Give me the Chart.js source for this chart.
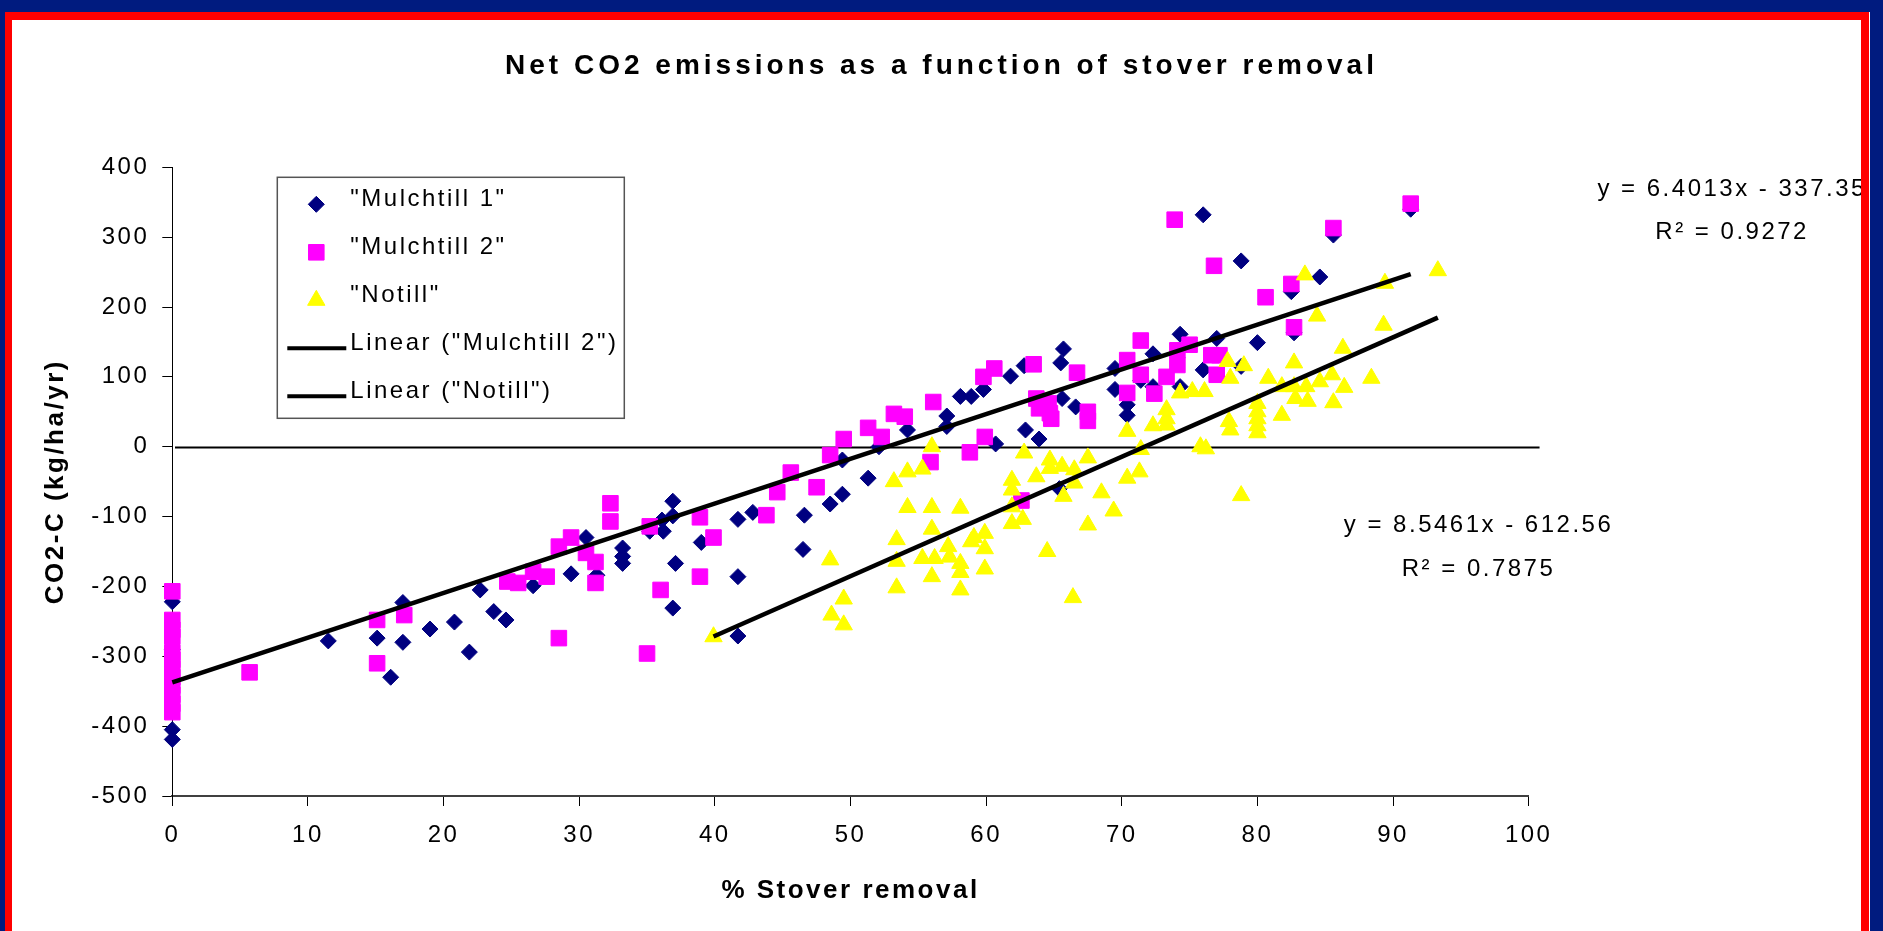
<!DOCTYPE html>
<html>
<head>
<meta charset="utf-8">
<title>Net CO2 emissions as a function of stover removal</title>
<script src="https://cdn.jsdelivr.net/npm/chart.js@4.4.1/dist/chart.umd.min.js"></script>
<style>
  html, body { margin: 0; padding: 0; background: #fff; overflow: hidden; }
  #wrap { position: absolute; left: 0; top: 0; width: 1883px; height: 931px; z-index: 1; }
  #frame { position: absolute; left: 0; top: 0; width: 1883px; height: 931px; box-sizing: border-box;
           border-style: solid; border-color: #001b7f; border-width: 12px 14px 0 5px;
           pointer-events: none; z-index: 2; }
  #frame div { box-sizing: border-box; height: 100%; border-style: solid; border-color: #ff0000;
               border-width: 8px 8px 0 7px; box-shadow: 1px 0 0 #fff; }
</style>
</head>
<body>
<div id="wrap"><canvas id="myChart"></canvas></div>
<div id="frame"><div></div></div>
<script>
// values
const mulch1X = [0, 0, 0, 0, 11.5, 15.1, 16.1, 17.0, 17.0, 19.0, 20.8, 21.9, 22.7, 23.7, 24.6, 26.6, 29.4, 30.5, 31.3,
  33.2, 33.2, 33.2, 35.2, 36.1, 36.2, 36.9, 36.9, 37.1, 36.9, 39.0, 41.7, 41.7, 41.7, 42.8, 46.5, 46.6, 48.5, 49.4, 49.4,
  51.3, 52.1, 54.2, 57.1, 57.1, 58.1, 58.9, 59.8, 60.7, 61.8, 62.8, 62.9, 63.9, 65.4, 65.5, 65.7, 65.6, 66.6, 69.5, 69.5,
  70.4, 70.4, 71.4, 72.3, 72.3, 74.3, 74.3, 76.0, 76.0, 77.0, 78.8, 78.8, 80.0, 82.5, 82.7, 84.6, 85.6, 91.3];
const mulch1Y = [-222, -290, -405, -419, -278, -274, -330, -223, -280, -261, -251, -294, -205, -236, -248, -199, -182, -130, -184,
  -145, -157, -167, -121, -105, -121, -78, -99, -167, -231, -137, -104, -186, -271, -94, -147, -98, -82, -68, -19,
  -45, 0, 24, 44, 29, 72, 72, 82, 4, 101, 116, 24, 11, -60, 120, 140, 69, 57, 112, 82,
  60, 45, 95, 133, 86, 161, 86, 332, 110, 155, 266, 115, 149, 222, 163, 243, 303, 340];

const mulch2X = [0, 0, 0, 0, 0, 0, 0, 0, 0, 0, 0, 0, 5.7, 15.1, 15.1, 17.1, 24.7, 25.5, 26.6, 27.6, 28.5, 28.5, 29.4,
  30.5, 31.2, 31.2, 32.3, 32.3, 35.0, 35.2, 36.0, 38.9, 38.9, 39.9, 43.8, 44.6, 45.6, 47.5, 48.5, 49.5, 51.3, 52.3,
  53.2, 54.0, 55.9, 56.1, 58.8, 59.8, 59.9, 60.6, 62.6, 63.5, 63.7, 63.9, 64.6, 64.7, 64.8, 66.7, 67.5, 67.5, 70.4,
  70.4, 71.4, 71.4, 72.4, 73.3, 73.9, 74.1, 74.1, 75.0, 76.6, 76.8, 77.2, 77.0, 80.6, 82.5, 82.7, 85.6, 91.3];
const mulch2Y = [-207, -248, -262, -272, -295, -305, -318, -330, -342, -355, -368, -380, -323, -248, -310, -241, -193, -195, -179, -186, -143, -274, -130,
  -152, -165, -195, -81, -107, -296, -114, -205, -101, -186, -130, -98, -65, -37, -58, -12, 11, 27, 14,
  47, 43, -22, 64, -8, 100, 14, 112, -77, 118, 69, 55, 62, 48, 40, 106, 50, 37, 124,
  77, 152, 103, 76, 100, 325, 138, 117, 146, 131, 259, 131, 103, 214, 233, 171, 313, 348];

const notillX = [39.9, 48.5, 48.6, 49.5, 49.5, 53.2, 53.4, 53.4, 53.4, 54.2, 54.2, 55.3, 55.3, 56.0, 56.0, 56.0, 56.0, 56.2,
  57.2, 57.3, 58.1, 58.1, 58.1, 58.1, 58.9, 59.1, 59.9, 59.9, 59.9, 61.9, 61.9, 61.9, 61.9, 62.7, 62.8, 63.7, 64.5,
  64.7, 64.7, 65.6, 65.7, 66.4, 66.5, 66.5, 67.5, 67.5, 68.5, 69.4, 70.4, 70.4, 71.3, 71.4, 72.3, 73.3, 73.3, 73.3,
  74.3, 75.2, 75.8, 76.2, 76.1, 77.8, 77.9, 78.0, 78.0, 78.8, 79.0, 80.0, 80.0, 80.0, 80.0, 80.0, 80.8, 81.8, 81.8,
  82.7, 82.7, 82.8, 83.5, 83.6, 83.7, 84.4, 84.6, 85.5, 85.6, 86.3, 86.4, 88.4, 89.3, 89.4, 93.3];
const notillY = [-272, -162, -241, -218, -255, -50, -133, -164, -202, -36, -87, -32, -160, 0, -87, -118, -186, -160,
  -143, -158, -88, -167, -180, -205, -136, -130, -124, -146, -175, -48, -62, -86, -110, -104, -9, -43, -150,
  -19, -31, -28, -71, -216, -33, -52, -16, -112, -66, -92, 22, -45, -36, -4, 30, 53, 40, 31,
  77, 79, 0, -3, 79, 122, 36, 98, 24, -70, 116, 62, 50, 40, 30, 20, 98, 86, 45,
  120, 86, 69, 246, 86, 65, 187, 93, 103, 63, 141, 85, 98, 174, 234, 252];

// trend line ends (from the fitted equations shown on the chart)
const trendMulchX = [0, 91.3];
const trendMulchY = [-337.4, 247.1];
const trendNotillX = [39.9, 93.3];
const trendNotillY = [-271.6, 184.8];

// horizontal line near zero
const zeroX = [0.2, 100.8];
const zeroY = [-1, -1];

const seriesNames = ['"Mulchtill 1"', '"Mulchtill 2"', '"Notill"', 'Linear ("Mulchtill 2")', 'Linear ("Notill")'];
const equations = ['y = 6.4013x - 337.35', 'y = 8.5461x - 612.56'];
const rSquared = ['R\u00B2 = 0.9272', 'R\u00B2 = 0.7875'];

// where the equation texts sit, in axis units
const eqAnchors = [
  { x: 115.0, y1: 369, y2: 307 },
  { x: 96.3, y1: -113, y2: -175 }
];

const pts = (xs, ys) => xs.map((x, i) => ({ x: x, y: ys[i] }));

Chart.defaults.font.family = '"Liberation Sans", Arial, sans-serif';
Chart.defaults.font.size = 24;
Chart.defaults.color = '#000';

const extras = {
  id: 'extras',
  beforeDraw(chart) {
    chart.ctx.letterSpacing = '2.5px';
    const tb = chart.titleBlock;
    if (tb && !tb._spaced) {
      const draw = tb.draw.bind(tb);
      tb.draw = function () {
        const c = this.ctx;
        c.save();
        c.letterSpacing = '4px';
        draw();
        c.restore();
      };
      tb._spaced = true;
    }
  },
  afterDraw(chart) {
    const ctx = chart.ctx;
    const area = chart.chartArea;
    const xs = chart.scales.x, ys = chart.scales.y;

    // legend box
    const bx = area.left + 105, by = area.top + 10, bw = 347, bh = 241;
    ctx.save();
    ctx.letterSpacing = '2.5px';
    ctx.fillStyle = '#fff';
    ctx.fillRect(bx, by, bw, bh);
    ctx.strokeStyle = '#555';
    ctx.lineWidth = 1.5;
    ctx.strokeRect(bx, by, bw, bh);
    ctx.font = '24px "Liberation Sans", Arial, sans-serif';
    ctx.textBaseline = 'middle';
    ctx.textAlign = 'left';
    chart.data.datasets.forEach((ds, i) => {
      if (!ds.label) return;
      const cy = by + 27 + i * 48;
      if (ds.showLine) {
        ctx.strokeStyle = ds.borderColor;
        ctx.lineWidth = 4;
        ctx.beginPath();
        ctx.moveTo(bx + 10, cy);
        ctx.lineTo(bx + 69, cy);
        ctx.stroke();
      } else {
        ctx.fillStyle = ds.backgroundColor;
        ctx.strokeStyle = ds.borderColor;
        ctx.lineWidth = ds.borderWidth;
        Chart.helpers.drawPoint(ctx, { pointStyle: ds.pointStyle, radius: ds.pointRadius, borderWidth: ds.borderWidth, rotation: 0 }, bx + 39, cy);
      }
      ctx.fillStyle = '#000';
      ctx.fillText(ds.label, bx + 73, cy - 5);
    });

    // trend equations
    ctx.textAlign = 'center';
    eqAnchors.forEach((a, i) => {
      const px = xs.getPixelForValue(a.x);
      ctx.fillText(equations[i], px, ys.getPixelForValue(a.y1));
      ctx.fillText(rSquared[i], px, ys.getPixelForValue(a.y2));
    });
    ctx.restore();
  }
};

const config = {
  type: 'scatter',
  data: {
    datasets: [
      { label: seriesNames[0], data: pts(mulch1X, mulch1Y), pointStyle: 'rectRot', pointRadius: 8, borderWidth: 1,
        backgroundColor: '#000080', borderColor: '#000080', order: 5, clip: false },
      { label: seriesNames[1], data: pts(mulch2X, mulch2Y), pointStyle: 'rect', pointRadius: 11, borderWidth: 1,
        backgroundColor: '#ff00ff', borderColor: '#ff00ff', order: 4, clip: false },
      { label: seriesNames[2], data: pts(notillX, notillY), pointStyle: 'triangle', pointRadius: 10, borderWidth: 1,
        backgroundColor: '#ffff00', borderColor: '#ffff00', order: 3, clip: false },
      { label: seriesNames[3], data: pts(trendMulchX, trendMulchY), showLine: true, pointRadius: 0,
        borderColor: '#000', borderWidth: 4.5, order: 1, clip: false },
      { label: seriesNames[4], data: pts(trendNotillX, trendNotillY), showLine: true, pointRadius: 0,
        borderColor: '#000', borderWidth: 4.5, order: 1, clip: false },
      { label: '', data: pts(zeroX, zeroY), showLine: true, pointRadius: 0,
        borderColor: '#000', borderWidth: 2, order: 6, clip: false }
    ]
  },
  options: {
    responsive: true,
    maintainAspectRatio: false,
    animation: false,
    events: [],
    layout: { padding: 0 },
    plugins: {
      legend: { display: false },
      tooltip: { enabled: false },
      title: {
        display: true,
        text: 'Net CO2 emissions as a function of stover removal',
        color: '#000',
        font: { size: 28, weight: 'bold' },
        padding: { top: 49, bottom: 84.7 }
      }
    },
    scales: {
      x: {
        type: 'linear', position: 'bottom', min: 0, max: 100,
        ticks: { stepSize: 10, color: '#000', font: { size: 24 }, padding: 15 },
        grid: { display: true, drawOnChartArea: false, drawTicks: true, tickLength: 10, color: '#000', lineWidth: 1 },
        border: { display: true, color: '#404040', width: 2 },
        title: { display: true, text: '% Stover removal', color: '#000', font: { size: 26, weight: 'bold' }, padding: { top: 0, bottom: 25 } },
        afterFit: s => { s.height = 135; }
      },
      y: {
        type: 'linear', position: 'left', min: -500, max: 400,
        ticks: { stepSize: 100, color: '#000', font: { size: 24 }, padding: 13 },
        grid: { display: true, drawOnChartArea: false, drawTicks: true, tickLength: 10, color: '#000', lineWidth: 1 },
        border: { display: true, color: '#000', width: 1 },
        title: { display: true, text: 'CO2-C (kg/ha/yr)', color: '#000', font: { size: 26, weight: 'bold' }, padding: { top: 40, bottom: 0 } },
        afterFit: s => { s.width = 172.3; }
      },
      yRight: {
        position: 'right', display: true,
        ticks: { display: false }, grid: { display: false }, border: { display: false },
        afterFit: s => { s.width = 354.3; }
      }
    }
  },
  plugins: [extras]
};

const chartCO2 = new Chart(document.getElementById('myChart'), config);
</script>
</body>
</html>
